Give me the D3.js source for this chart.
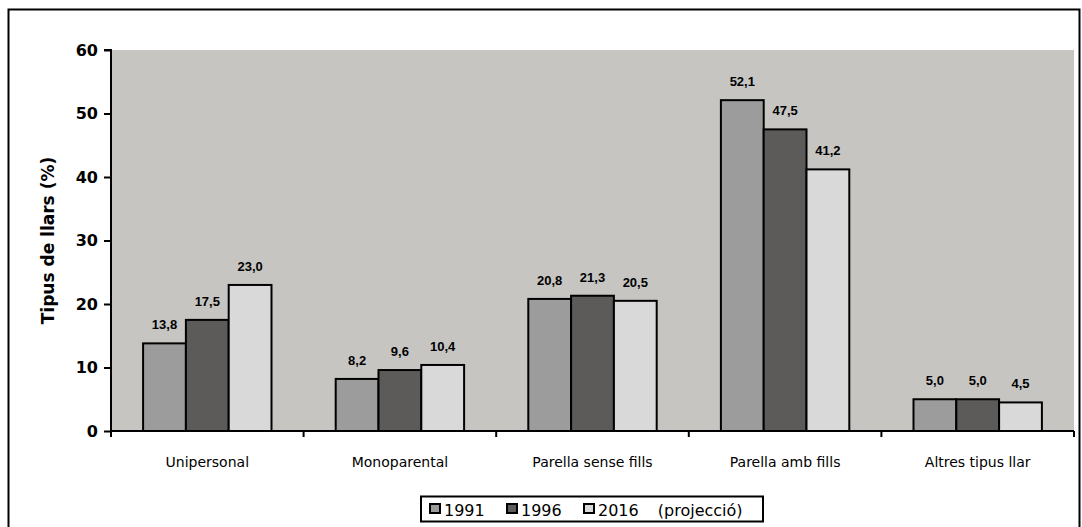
<!DOCTYPE html>
<html>
<head>
<meta charset="utf-8">
<script src="https://cdn.jsdelivr.net/npm/d3@7"></script>
<style>
html,body{margin:0;padding:0;background:#fff;}
svg{display:block;font-family:"DejaVu Sans",sans-serif;}
</style>
</head>
<body>
<svg id="chart" width="1082" height="527"></svg>
<script>
const categories = ["Unipersonal", "Monoparental", "Parella sense fills", "Parella amb fills", "Altres tipus llar"];
const seriesNames = ["1991", "1996", "2016 (projecció)"];
const values1991 = [13.8, 8.2, 20.8, 52.1, 5.0];
const values1996 = [17.5, 9.6, 21.3, 47.5, 5.0];
const values2016 = [23.0, 10.4, 20.5, 41.2, 4.5];
const yTicks = [0, 10, 20, 30, 40, 50, 60];
const yTitle = "Tipus de llars (%)";

const seriesValues = [values1991, values1996, values2016];
const colors = ["#9c9c9c", "#5c5b59", "#d9d9d9"];

const svg = d3.select("#chart");
const plot = {left: 111, right: 1074, top: 50, bottom: 431};

// outer frame
svg.append("rect").attr("x", 8.5).attr("y", 9.5).attr("width", 1071).attr("height", 530)
  .attr("fill", "#fff").attr("stroke", "#000").attr("stroke-width", 2);

const x0 = d3.scaleBand().domain(categories).range([plot.left, plot.right]).paddingInner(0).paddingOuter(0);
const bw = x0.bandwidth() / 4.5;
const y = d3.scaleLinear().domain([0, 60]).range([plot.bottom, plot.top]);

// plot background
svg.append("rect").attr("x", plot.left).attr("y", plot.top)
  .attr("width", plot.right - plot.left).attr("height", plot.bottom - plot.top)
  .attr("fill", "#c6c5c2");

// bars
const groups = svg.append("g").selectAll("g").data(categories).join("g")
  .attr("transform", d => `translate(${x0(d)},0)`);

const off = (x0.bandwidth() - 3*bw) / 2;
groups.each(function(cat, ci) {
  const g = d3.select(this);
  seriesValues.forEach((vals, si) => {
    const v = vals[ci];
    g.append("rect")
      .attr("x", off + si*bw)
      .attr("y", y(v))
      .attr("width", bw)
      .attr("height", y(0) - y(v))
      .attr("fill", colors[si])
      .attr("stroke", "#000").attr("stroke-width", 2);
    g.append("text")
      .attr("x", off + si*bw + bw/2)
      .attr("y", y(v) - 14)
      .attr("text-anchor", "middle")
      .attr("font-family", "'Liberation Sans',Arial,sans-serif")
      .attr("font-size", 13).attr("font-weight", "bold")
      .attr("fill", "#000")
      .text(d3.format(".1f")(v).replace(".", ","));
  });
});

// y axis
const yAxis = d3.axisLeft(y).tickValues(yTicks).tickSize(7).tickPadding(6).tickFormat(d3.format("d"));
const ya = svg.append("g").attr("transform", `translate(${plot.left},0)`).call(yAxis);
ya.select(".domain").attr("stroke", "#000").attr("stroke-width", 2).attr("d", `M-7,${plot.top}H0V${plot.bottom}`);
ya.selectAll(".tick line").attr("stroke", "#000").attr("stroke-width", 2);
ya.selectAll(".tick text").attr("font-size", 16).attr("font-weight", "bold").attr("fill", "#000")
  .attr("font-family", "'DejaVu Sans',sans-serif");

// x axis
const xa = svg.append("g").attr("transform", `translate(0,${plot.bottom})`);
xa.append("line").attr("x1", plot.left).attr("x2", plot.right).attr("y1", 0).attr("y2", 0)
  .attr("stroke", "#000").attr("stroke-width", 2);
const boundaries = categories.map(c => x0(c)).concat([x0(categories[categories.length-1]) + x0.bandwidth()]);
xa.selectAll("line.tk").data(boundaries).join("line").attr("class", "tk")
  .attr("x1", d => d).attr("x2", d => d).attr("y1", 0).attr("y2", 6)
  .attr("stroke", "#000").attr("stroke-width", 2);
xa.selectAll("text").data(categories).join("text")
  .attr("x", d => x0(d) + x0.bandwidth()/2)
  .attr("y", 36)
  .attr("text-anchor", "middle")
  .attr("font-size", 14)
  .attr("fill", "#000")
  .text(d => d);

// y title
svg.append("text")
  .attr("transform", `translate(54,${(plot.top+plot.bottom)/2}) rotate(-90)`)
  .attr("text-anchor", "middle")
  .attr("font-size", 17).attr("font-weight", "bold")
  .attr("fill", "#000")
  .text(yTitle);

// legend
const lg = svg.append("g");
lg.append("rect").attr("x", 421).attr("y", 496.5).attr("width", 342).attr("height", 25)
  .attr("fill", "#fff").attr("stroke", "#000").attr("stroke-width", 2);
const legendX = [430, 507, 584];
seriesNames.forEach((name, i) => {
  lg.append("rect").attr("x", legendX[i]).attr("y", 504).attr("width", 10).attr("height", 9)
    .attr("fill", colors[i]).attr("stroke", "#000").attr("stroke-width", 2);
  lg.append("text").attr("x", legendX[i] + 14).attr("y", 515.5)
    .attr("font-size", 16).attr("fill", "#000")
    .attr("word-spacing", i === 2 ? 14 : 0)
    .text(name);
});
</script>
</body>
</html>
